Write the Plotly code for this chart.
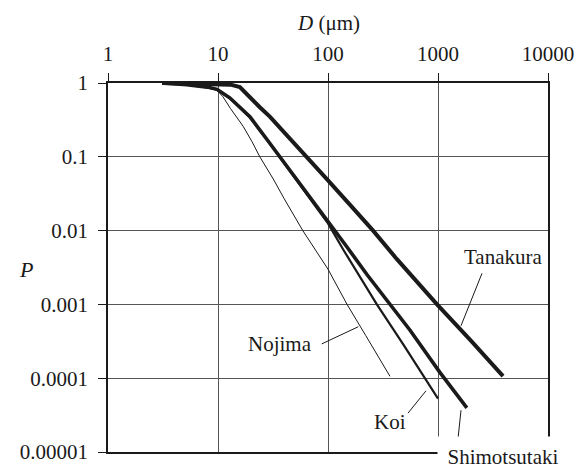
import plotly.graph_objects as go

# ---- data ----
tanakura_D = [3.1, 5.2, 8, 10, 13, 15.8, 19.5, 24, 29.6, 45, 65, 100, 158, 257, 423, 556, 980, 2000, 3900]
tanakura_P = [1, 0.99, 0.985, 0.98, 0.95, 0.88, 0.63, 0.47, 0.35, 0.178, 0.1, 0.048, 0.0225, 0.01, 0.0041, 0.00256, 0.001, 3.2e-4, 1.07e-4]

shimo_D = [3.1, 5.2, 8, 9.8, 12.8, 19.5, 28, 36.6, 55.6, 80, 105, 150, 225, 367, 555, 1040, 1830]
shimo_P = [1, 0.95, 0.88, 0.82, 0.63, 0.35, 0.17, 0.1, 0.043, 0.0208, 0.012, 0.0059, 0.00256, 0.001, 4.5e-4, 1.2e-4, 3.96e-5]

koi_D = [3.1, 5.2, 8, 9.8, 12.8, 19.5, 28, 36.6, 55.6, 80, 100, 140, 188, 278, 488, 1000]
koi_P = [1, 0.95, 0.87, 0.81, 0.62, 0.34, 0.168, 0.097, 0.041, 0.0197, 0.0125, 0.0053, 0.00256, 0.001, 2.8e-4, 5.3e-5]

nojima_D = [3.1, 5.2, 8, 9.8, 11.1, 13, 16.9, 20.4, 24, 31.8, 40, 59, 100, 149, 220, 366]
nojima_P = [1, 0.95, 0.87, 0.8, 0.65, 0.45, 0.26, 0.16, 0.1, 0.05, 0.027, 0.01, 0.003, 0.001, 3.8e-4, 1.06e-4]

x_tickvals = [1, 10, 100, 1000, 10000]
x_ticktext = ["1", "10", "100", "1000", "10000"]
y_tickvals = [1, 0.1, 0.01, 0.001, 0.0001, 0.00001]
y_ticktext = ["1", "0.1", "0.01", "0.001", "0.0001", "0.00001"]

FONT = "Liberation Serif"
INK = "#1a1a1a"

fig = go.Figure()
series = [
    ("Nojima", nojima_D, nojima_P, 1.0),
    ("Koi", koi_D, koi_P, 2.2),
    ("Shimotsutaki", shimo_D, shimo_P, 3.6),
    ("Tanakura", tanakura_D, tanakura_P, 4.0),
]
for name, d, p, w in series:
    fig.add_trace(go.Scatter(x=d, y=p, mode="lines", name=name,
                             line=dict(color=INK, width=w), showlegend=False))

axis_common = dict(
    type="log", showline=True, linecolor=INK, linewidth=1.5, mirror=True,
    showgrid=True, gridcolor="#555555", gridwidth=1, zeroline=False,
    ticks="outside", ticklen=8, tickcolor=INK, tickwidth=1.2,
    tickfont=dict(family=FONT, size=21, color=INK),
)
fig.update_xaxes(side="top", range=[0, 4], tickvals=x_tickvals, ticktext=x_ticktext,
                 ticklabelstandoff=4, **axis_common)
fig.update_yaxes(range=[-5, 0], tickvals=y_tickvals, ticktext=y_ticktext,
                 ticklabelstandoff=6, **axis_common)

anns = []
# axis titles
anns.append(dict(xref="paper", yref="paper", x=0.5, y=1.163, xanchor="center", yanchor="middle",
                 showarrow=False, text="<i>D</i> (μm)", font=dict(family=FONT, size=21, color=INK)))
anns.append(dict(xref="paper", yref="paper", x=-0.186, y=0.495, xanchor="center", yanchor="middle",
                 showarrow=False, text="<i>P</i>", font=dict(family=FONT, size=22, color=INK)))

# series labels (paper coordinates)
labels = [
    ("Tanakura", 0.8977, 0.5289, None),
    ("Koi", 0.6409, 0.0816, None),
    ("Nojima", 0.3909, 0.2921, None),
    ("Shimotsutaki", 0.8977, -0.0132, "white"),
]
for t, x, y, bg in labels:
    a = dict(xref="paper", yref="paper", x=x, y=y, xanchor="center", yanchor="middle",
             text=t, showarrow=False, font=dict(family=FONT, size=21, color=INK))
    if bg:
        a.update(bgcolor=bg, width=130, height=40, borderpad=0)
    anns.append(a)

# leader lines (paper coordinates): x0, y0, x1, y1
leaders = [
    (0.85, 0.4842, 0.8023, 0.3421),
    (0.4857, 0.2929, 0.5689, 0.3395),
    (0.6818, 0.1053, 0.7227, 0.1658),
    (0.7948, 0.0282, 0.8023, 0.1132),
]
shapes = [dict(type="line", xref="paper", yref="paper", x0=a, y0=b, x1=c, y1=d,
               line=dict(color=INK, width=1)) for a, b, c, d in leaders]

fig.update_layout(
    width=587, height=476,
    margin=dict(l=108, r=39, t=83, b=13),
    paper_bgcolor="white", plot_bgcolor="white",
    annotations=anns, shapes=shapes,
    font=dict(family=FONT, color=INK),
)

fig.write_html("out.html")
